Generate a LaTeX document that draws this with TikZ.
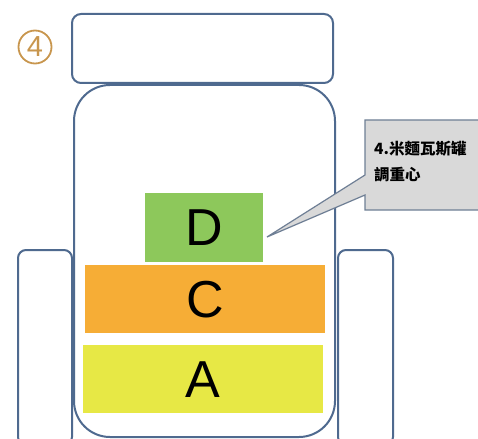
\documentclass[tikz,border=0pt]{standalone}
\usepackage{fontspec}
\setmainfont{Liberation Sans}
\newfontfamily\cjk{Noto Sans CJK TC}
\definecolor{outl}{HTML}{4F6A8F}
\definecolor{dgreen}{HTML}{8DC85B}
\definecolor{corange}{HTML}{F6AD36}
\definecolor{ayellow}{HTML}{E7E845}
\definecolor{callfill}{HTML}{D9D9D9}
\definecolor{callline}{HTML}{6F7F95}
\definecolor{numcol}{HTML}{C8964E}
\begin{document}
\begin{tikzpicture}[x=1pt,y=-1pt,
  outline/.style={draw=outl,line width=2pt,fill=white},
  block/.style={inner sep=0pt,anchor=north west},
  letter/.style={font=\fontsize{52}{52}\selectfont},
  ]
\useasboundingbox (0,0) rectangle (478,438);
\begin{scope}
\clip (0,0) rectangle (478,438);
% handles
\draw[outline,rounded corners=8pt] (18,250) rectangle (72,445);
\draw[outline,rounded corners=8pt] (338,250) rectangle (393,445);
% jar body
\draw[outline,rounded corners=36pt] (74,85) rectangle (335,437);
% lid
\draw[outline,rounded corners=9pt] (72,14) rectangle (333,83);
\end{scope}
% circled number
\node[draw=numcol,line width=1.8pt,circle,minimum size=33pt,inner sep=0pt,text=numcol,font=\fontsize{29}{29}\selectfont] (num) at (35,47) {4};
% blocks
\node[block,fill=dgreen,minimum width=118pt,minimum height=69pt] (D) at (145,193) {};
\node[letter] (Dl) at (D.center) {D};
\node[block,fill=corange,minimum width=240pt,minimum height=68pt] (C) at (85,265) {};
\node[letter] (Cl) at (C.center) {C};
\node[block,fill=ayellow,minimum width=240pt,minimum height=68pt] (A) at (83,345) {};
\node[letter] (Al) at (A.center) {A};
% callout
\coordinate (tip) at (267,237);
\draw[fill=callfill,draw=callline,line width=1.2pt]
  (365,120) -- (481,120) -- (481,210) -- (365,210) -- (365,195) -- (tip) -- (365,175) -- cycle;
\node[anchor=north west,inner sep=0pt,align=left,font=\cjk\bfseries\fontsize{15.5}{26}\selectfont] (lbl) at (374,141) {4.米麵瓦斯罐\\調重心};
\end{tikzpicture}
\end{document}
